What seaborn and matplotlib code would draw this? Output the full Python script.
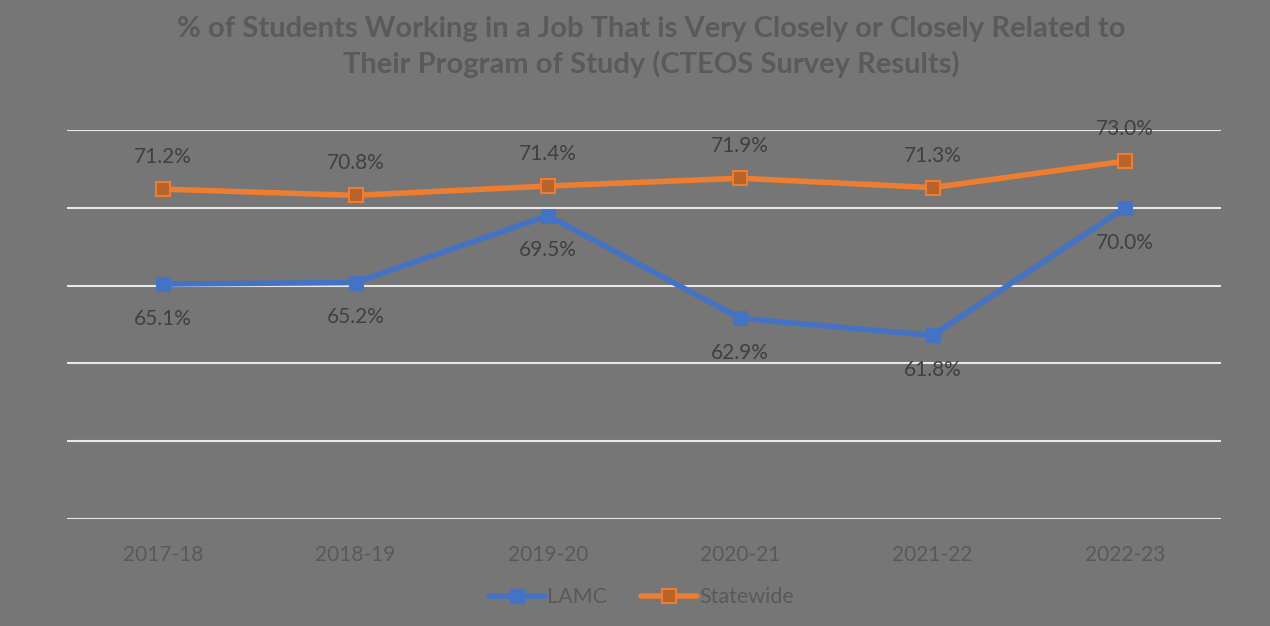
import numpy as np
import pandas as pd
import matplotlib.pyplot as plt
import seaborn as sns

# chart data
years = ['2017-18', '2018-19', '2019-20', '2020-21', '2021-22', '2022-23']
lamc = [65.1, 65.2, 69.5, 62.9, 61.8, 70.0]
statewide = [71.2, 70.8, 71.4, 71.9, 71.3, 73.0]

df = pd.DataFrame({
    'Year': years * 2,
    'Pct': lamc + statewide,
    'Group': ['LAMC'] * len(years) + ['Statewide'] * len(years),
})

bg = '#767676'
sns.set_theme(style='white', rc={'axes.facecolor': bg, 'figure.facecolor': bg})
plt.rcParams['font.family'] = ['Lato', 'DejaVu Sans']

fig = plt.figure(figsize=(12.7, 6.26), dpi=100)
ax = fig.add_axes([0.0528, 0.1709, 0.9087, 0.6214])

blue = '#4472C4'
orange = '#ED7D31'
sns.lineplot(data=df, x='Year', y='Pct', hue='Group', palette={'LAMC': blue, 'Statewide': orange},
             marker='s', markersize=10, linewidth=4, ax=ax, legend=False, sort=False)
# orange markers have a darker fill
ax.lines[1].set_markerfacecolor('#B9622A')
ax.lines[1].set_markeredgecolor(orange)
ax.lines[1].set_markeredgewidth(1.5)
ax.lines[0].set_markeredgecolor(blue)

ax.set_xlim(-0.5, 5.5)
ax.set_ylim(50, 75)
ax.set_yticks([50, 55, 60, 65, 70, 75])
ax.yaxis.grid(True, color='#E8E8E8', linewidth=1.5)
ax.set_axisbelow(True)
ax.tick_params(axis='y', left=False, labelleft=False)
ax.tick_params(axis='x', bottom=False, labelsize=15, labelcolor='#595959', pad=13)
for s in ax.spines.values():
    s.set_visible(False)
ax.set_xlabel('')
ax.set_ylabel('')

for i, v in enumerate(lamc):
    ax.annotate(f'{v:.1f}%', (i, v), xytext=(0, -25), textcoords='offset points',
                ha='center', va='center', fontsize=15, color='#404040')
for i, v in enumerate(statewide):
    ax.annotate(f'{v:.1f}%', (i, v), xytext=(0, 23), textcoords='offset points',
                ha='center', va='center', fontsize=15, color='#404040')

fig.text(0.513, 0.975, '% of Students Working in a Job That is Very Closely or Closely Related to\n'
         'Their Program of Study (CTEOS Survey Results)',
         ha='center', va='top', fontsize=21, fontweight='bold', color='#5A5A5A', linespacing=1.4)

from matplotlib.lines import Line2D
handles = [Line2D([], [], color=blue, lw=4, marker='s', markersize=10),
           Line2D([], [], color=orange, lw=4, marker='s', markersize=10,
                  markerfacecolor='#B9622A', markeredgecolor=orange, markeredgewidth=1.5)]
fig.legend(handles, ['LAMC', 'Statewide'], loc='center', bbox_to_anchor=(0.505, 0.046), ncol=2,
           frameon=False, fontsize=15.5, labelcolor='#595959', handlelength=2.6,
           handletextpad=0.1, columnspacing=1.6)

plt.savefig('out.png', dpi=100, facecolor=bg)
